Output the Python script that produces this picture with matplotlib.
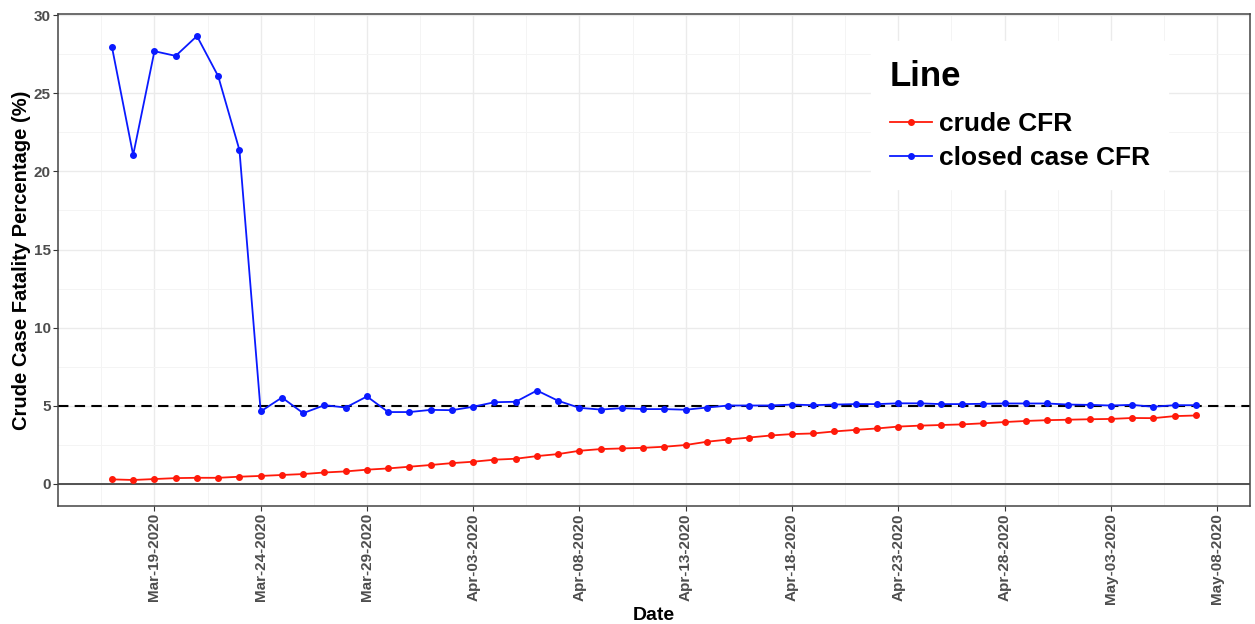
import numpy as np
import pandas as pd
import matplotlib
matplotlib.use("Agg")
import matplotlib.pyplot as plt
import matplotlib.dates as mdates
from matplotlib.ticker import MultipleLocator

plt.rcParams['font.family'] = ['Liberation Sans', 'DejaVu Sans']

# Daily series, Mar 17 2020 -> May 7 2020
dates = pd.date_range("2020-03-17", "2020-05-07", freq="D")

crude_cfr = [
    0.28, 0.24, 0.30, 0.36, 0.38, 0.38, 0.45,                # Mar 17-23
    0.50, 0.56, 0.62, 0.72, 0.79, 0.90, 0.98, 1.09,          # Mar 24-31
    1.20, 1.32, 1.41, 1.54, 1.60, 1.77, 1.90, 2.11, 2.22,    # Apr 1-9
    2.26, 2.30, 2.37, 2.48, 2.69, 2.83, 2.96, 3.09, 3.18,    # Apr 10-18
    3.22, 3.35, 3.45, 3.54, 3.66, 3.72, 3.76, 3.80, 3.87,    # Apr 19-27
    3.95, 4.02, 4.07, 4.10, 4.13, 4.15, 4.21, 4.20, 4.33,    # Apr 28 - May 6
    4.37,                                                    # May 7
]

closed_cfr = [
    27.98, 21.05, 27.70, 27.40, 28.67, 26.10, 21.37,
    4.63, 5.52, 4.52, 5.03, 4.88, 5.59, 4.59, 4.59,
    4.73, 4.71, 4.93, 5.22, 5.25, 5.97, 5.31, 4.86, 4.75,
    4.84, 4.78, 4.78, 4.74, 4.88, 5.01, 5.01, 5.01, 5.07,
    5.03, 5.07, 5.10, 5.10, 5.15, 5.15, 5.10, 5.10, 5.12,
    5.14, 5.14, 5.14, 5.07, 5.05, 5.01, 5.05, 4.93, 5.03,
    5.03,
]

tick_dates = pd.date_range("2020-03-19", "2020-05-08", freq="5D")

fig = plt.figure(figsize=(12.55, 6.24), dpi=100)
ax = fig.add_axes([0.046, 0.189, 0.95, 0.789])

# reference lines
ax.axhline(0, color="#444444", lw=1.3, zorder=2)
ax.axhline(5, color="black", lw=1.5, ls=(0, (5, 3)), zorder=2)

ax.plot(dates, crude_cfr, color="#ff1a0a", lw=1.3, marker="o", ms=4,
        label="crude CFR", zorder=3)
ax.plot(dates, closed_cfr, color="#0a1aff", lw=1.3, marker="o", ms=4,
        label="closed case CFR", zorder=3)

# axes limits with ggplot-like 5% expansion
span = (dates[-1] - dates[0]) * 0.05
ax.set_xlim(dates[0] - span, dates[-1] + span)
ax.set_ylim(-1.43, 30.1)

ax.set_xticks(tick_dates)
ax.xaxis.set_major_formatter(mdates.DateFormatter("%b-%d-%Y"))
minor = tick_dates[:-1] + pd.Timedelta(hours=60)
minor = minor.append(pd.DatetimeIndex([tick_dates[0] - pd.Timedelta(hours=60)]))
ax.set_xticks(minor, minor=True)
ax.yaxis.set_major_locator(MultipleLocator(5))
ax.yaxis.set_minor_locator(MultipleLocator(2.5))

ax.grid(True, which="major", color="#ebebeb", lw=1.0)
ax.grid(True, which="minor", color="#f4f4f4", lw=0.7)
ax.set_axisbelow(True)

plt.setp(ax.get_xticklabels(), rotation=90, fontweight="bold",
         fontsize=11, color="#4d4d4d")
plt.setp(ax.get_yticklabels(), fontweight="bold", fontsize=11,
         color="#4d4d4d")
ax.tick_params(which="minor", length=0)
ax.tick_params(which="major", length=3.5, color="#333333", pad=1.5)

for s in ax.spines.values():
    s.set_color("#444444")
    s.set_linewidth(1.1)

ax.set_xlabel("Date", fontsize=14, fontweight="bold", labelpad=2)
ax.set_ylabel("Crude Case Fatality Percentage (%)", fontsize=14.5,
              fontweight="bold")
ax.yaxis.set_label_coords(-0.0225, 0.5)

leg = ax.legend(title="Line", loc="upper right",
                bbox_to_anchor=(0.9425, 0.971), frameon=True,
                prop={"size": 19, "weight": "bold"},
                handlelength=1.6, handletextpad=0.25,
                borderpad=0.7, labelspacing=0.38)
leg.get_title().set_fontsize(25)
leg.get_title().set_fontweight("bold")
leg._legend_box.align = "left"
leg._legend_box.sep = 14
leg.get_frame().set_edgecolor("white")
leg.get_frame().set_facecolor("white")
leg.get_frame().set_alpha(1)

fig.savefig("out.png", dpi=100)
